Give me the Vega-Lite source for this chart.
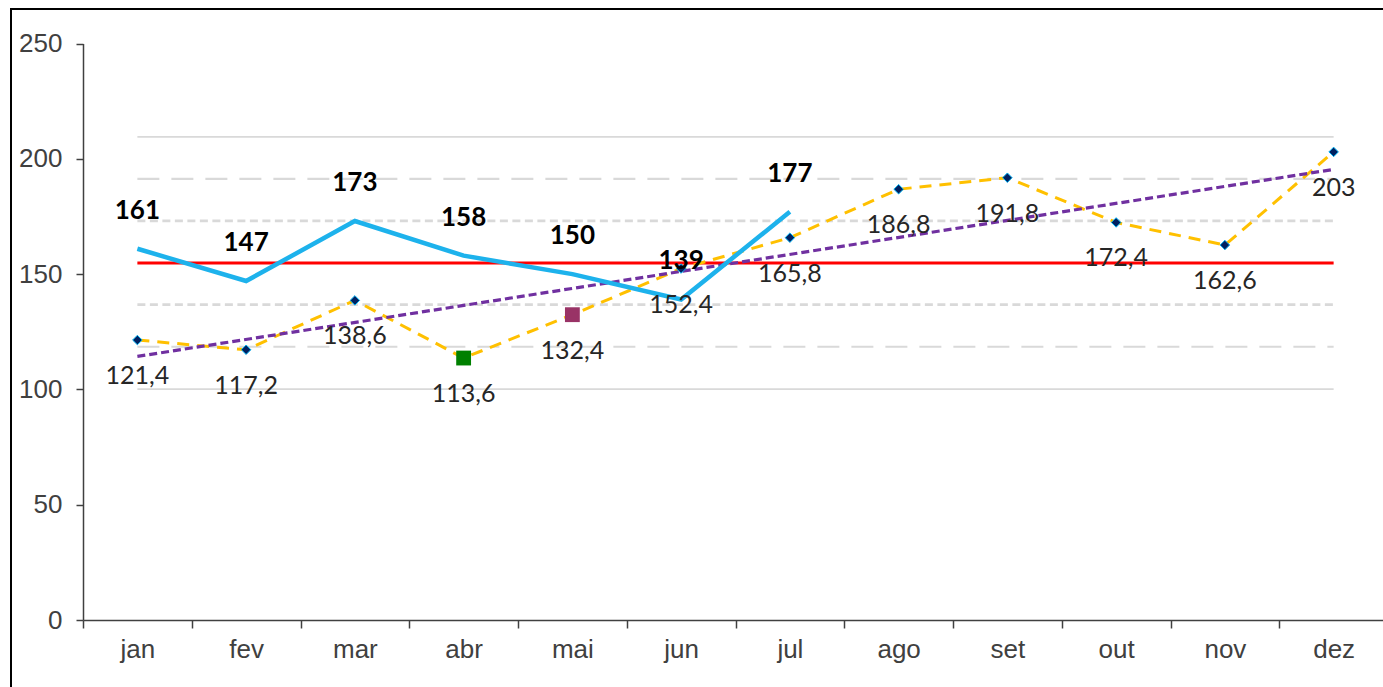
{
  "$schema": "https://vega.github.io/schema/vega-lite/v6.json",
  "autosize": {"type": "none"},
  "width": 1382,
  "height": 688,
  "padding": {"left": 11, "top": 9, "right": -10, "bottom": -10},
  "background": "white",
  "config": {
    "view": {"stroke": "#000000", "strokeWidth": 2},
    "locale": {"number": {"decimal": ",", "thousands": ".", "grouping": [3], "currency": ["R$ ", ""]}},
    "axis": {
      "grid": false,
      "labelFont": "Liberation Sans",
      "labelFontSize": 26,
      "labelColor": "#404040",
      "domainColor": "#404040",
      "domainWidth": 1.5,
      "tickColor": "#404040",
      "tickWidth": 1.5
    }
  },
  "datasets": {
    "realizado": [
      {"mes": "jan", "valor": 121.4},
      {"mes": "fev", "valor": 117.2},
      {"mes": "mar", "valor": 138.6},
      {"mes": "abr", "valor": 113.6},
      {"mes": "mai", "valor": 132.4},
      {"mes": "jun", "valor": 152.4},
      {"mes": "jul", "valor": 165.8},
      {"mes": "ago", "valor": 186.8},
      {"mes": "set", "valor": 191.8},
      {"mes": "out", "valor": 172.4},
      {"mes": "nov", "valor": 162.6},
      {"mes": "dez", "valor": 203}
    ],
    "meta": [
      {"mes": "jan", "valor": 161},
      {"mes": "fev", "valor": 147},
      {"mes": "mar", "valor": 173},
      {"mes": "abr", "valor": 158},
      {"mes": "mai", "valor": 150},
      {"mes": "jun", "valor": 139},
      {"mes": "jul", "valor": 177}
    ],
    "tendencia": [
      {"mes": "jan", "valor": 114.3},
      {"mes": "dez", "valor": 195.4}
    ],
    "media": [
      {"mes": "jan", "valor": 154.8},
      {"mes": "dez", "valor": 154.8}
    ],
    "limites": [
      {"linha": "LSC3", "tipo": "solida", "mes": "jan", "valor": 209.5},
      {"linha": "LSC3", "tipo": "solida", "mes": "dez", "valor": 209.5},
      {"linha": "LSC2", "tipo": "tracejada", "mes": "jan", "valor": 191.3},
      {"linha": "LSC2", "tipo": "tracejada", "mes": "dez", "valor": 191.3},
      {"linha": "LSC1", "tipo": "pontilhada", "mes": "jan", "valor": 173.1},
      {"linha": "LSC1", "tipo": "pontilhada", "mes": "dez", "valor": 173.1},
      {"linha": "LIC1", "tipo": "pontilhada", "mes": "jan", "valor": 136.8},
      {"linha": "LIC1", "tipo": "pontilhada", "mes": "dez", "valor": 136.8},
      {"linha": "LIC2", "tipo": "tracejada", "mes": "jan", "valor": 118.5},
      {"linha": "LIC2", "tipo": "tracejada", "mes": "dez", "valor": 118.5},
      {"linha": "LIC3", "tipo": "solida", "mes": "jan", "valor": 100.1},
      {"linha": "LIC3", "tipo": "solida", "mes": "dez", "valor": 100.1}
    ]
  },
  "encoding": {
    "x": {
      "field": "mes",
      "type": "ordinal",
      "bandPosition": 0.5,
      "scale": {
        "type": "band",
        "domain": ["jan", "fev", "mar", "abr", "mai", "jun", "jul", "ago", "set", "out", "nov", "dez"],
        "range": [72, 1377],
        "paddingInner": 0,
        "paddingOuter": 0
      },
      "axis": {
        "title": null,
        "tickBand": "extent",
        "offset": -77,
        "labelAngle": 0,
        "tickSize": 8,
        "labelPadding": 8
      }
    },
    "y": {
      "field": "valor",
      "type": "quantitative",
      "scale": {"domain": [0, 250], "range": [611, 34.5], "nice": false, "zero": true},
      "axis": {
        "title": null,
        "offset": -72,
        "tickCount": 6,
        "tickSize": 7,
        "labelPadding": 14
      }
    }
  },
  "layer": [
    {
      "data": {"name": "limites"},
      "mark": {"type": "line", "color": "#D9D9D9"},
      "encoding": {
        "detail": {"field": "linha", "type": "nominal"},
        "strokeDash": {
          "field": "tipo",
          "type": "nominal",
          "scale": {"domain": ["solida", "tracejada", "pontilhada"], "range": [[1, 0], [22, 12], [8, 4.5]]},
          "legend": null
        },
        "strokeWidth": {
          "field": "tipo",
          "type": "nominal",
          "scale": {"domain": ["solida", "tracejada", "pontilhada"], "range": [1.6, 2.8, 2.5]},
          "legend": null
        }
      }
    },
    {
      "data": {"name": "media"},
      "mark": {"type": "line", "color": "#FF0000", "strokeWidth": 3},
      "encoding": {}
    },
    {
      "data": {"name": "realizado"},
      "mark": {"type": "line", "color": "#FFC000", "strokeWidth": 3, "strokeDash": [12, 8]},
      "encoding": {}
    },
    {
      "data": {"name": "tendencia"},
      "mark": {"type": "line", "color": "#7030A0", "strokeWidth": 3.2, "strokeDash": [8, 4]},
      "encoding": {}
    },
    {
      "data": {"name": "meta"},
      "mark": {"type": "line", "color": "#1DB2EC", "strokeWidth": 4.5},
      "encoding": {}
    },
    {
      "data": {"name": "realizado"},
      "transform": [{"filter": "datum.mes != 'abr' && datum.mes != 'mai'"}],
      "mark": {"type": "point", "shape": "diamond", "filled": true, "size": 90, "color": "#002060", "stroke": "#00B0F0", "strokeWidth": 1, "opacity": 1}
    },
    {
      "data": {"name": "realizado"},
      "transform": [{"filter": "datum.mes == 'abr'"}],
      "mark": {"type": "point", "shape": "square", "filled": true, "size": 220, "color": "#008000", "opacity": 1}
    },
    {
      "data": {"name": "realizado"},
      "transform": [{"filter": "datum.mes == 'mai'"}],
      "mark": {"type": "point", "shape": "square", "filled": true, "size": 220, "color": "#993366", "opacity": 1}
    },
    {
      "data": {"name": "realizado"},
      "mark": {"type": "text", "font": "Lato", "fontSize": 25, "color": "#262626", "dy": 36, "baseline": "middle", "align": "center"},
      "encoding": {"text": {"field": "valor", "type": "quantitative", "format": ".1~f"}}
    },
    {
      "data": {"name": "meta"},
      "mark": {"type": "text", "font": "Lato", "fontSize": 26, "fontWeight": "bold", "color": "#000000", "dy": -38, "baseline": "middle", "align": "center"},
      "encoding": {"text": {"field": "valor", "type": "quantitative", "format": "d"}}
    }
  ]
}
